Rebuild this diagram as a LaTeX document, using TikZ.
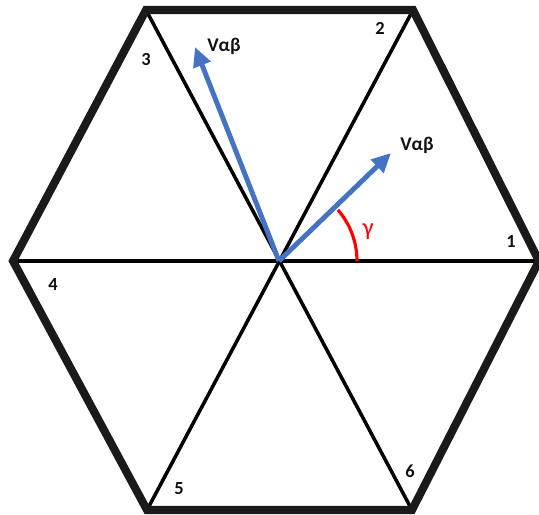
\documentclass[tikz,border=0pt]{standalone}
\usepackage{fontspec}
\setmainfont{Carlito}
\usepackage{tikz}
\usepackage{xcolor}
\usetikzlibrary{arrows.meta,positioning,calc}
\definecolor{ink}{HTML}{1A1A1A}
\definecolor{vecblue}{HTML}{4472C4}
\definecolor{angred}{HTML}{FF0000}
\definecolor{numink}{HTML}{111111}
\tikzset{
  hexedge/.style={draw=ink,line width=4.6pt,line join=miter},
  sector/.style={draw=black,line width=2pt},
  vecarr/.style={-{Triangle[length=11pt,width=10pt]},line width=2.8pt,
                 draw=vecblue},
  anglearc/.style={draw=angred,line width=1.8pt},
  secnum/.style={font=\fontsize{10.5}{12}\selectfont\bfseries,
                 text=numink,inner sep=1pt},
  veclabel/.style={font=\fontsize{11}{13}\selectfont\bfseries,
                   text=numink,inner sep=1pt}
}

\begin{document}
\begin{tikzpicture}[x=0.02cm,y=-0.02cm]
    \path[use as bounding box] (0,0) rectangle (539,515);

    % corners of the hexagon
    \coordinate (c1) at (539,261);
    \coordinate (c2) at (413,10);
    \coordinate (c3) at (146,10);
    \coordinate (c4) at (13,261);
    \coordinate (c5) at (147,510);
    \coordinate (c6) at (412,510);
    \coordinate (O) at (279,261);

    % sector boundaries
    \draw[sector] (c4) -- (c1);
    \draw[sector] (c3) -- (c6);
    \draw[sector] (c2) -- (c5);

    \draw[hexedge] (c1) -- (c2) -- (c3) -- (c4) -- (c5) -- (c6) -- cycle;

    % voltage vectors
    \coordinate (vtipA) at (195,47);
    \coordinate (vtipB) at (391,153);
    \draw[vecarr] (O) -- (vtipA);
    \draw[vecarr] (O) -- (vtipB);
    \node[veclabel] (vlabA) at (224,46) {Vαβ};
    \node[veclabel] (vlabB) at (417,145) {Vαβ};

    % angle gamma
    \draw[anglearc] ($(O)+(78,0)$) arc[start angle=0,end angle=-41,radius=78];
    \node[text=angred,font=\fontsize{14}{16}\selectfont] (gam) at (368,232)
      {γ};

    % sector numbers
    \node[secnum] (n1) at (511,242) {1};
    \node[secnum] (n2) at (380,28) {2};
    \node[secnum] (n3) at (146,60) {3};
    \node[secnum] (n4) at (53,285) {4};
    \node[secnum] (n5) at (179,489) {5};
    \node[secnum] (n6) at (410,471) {6};
\end{tikzpicture}
\end{document}
